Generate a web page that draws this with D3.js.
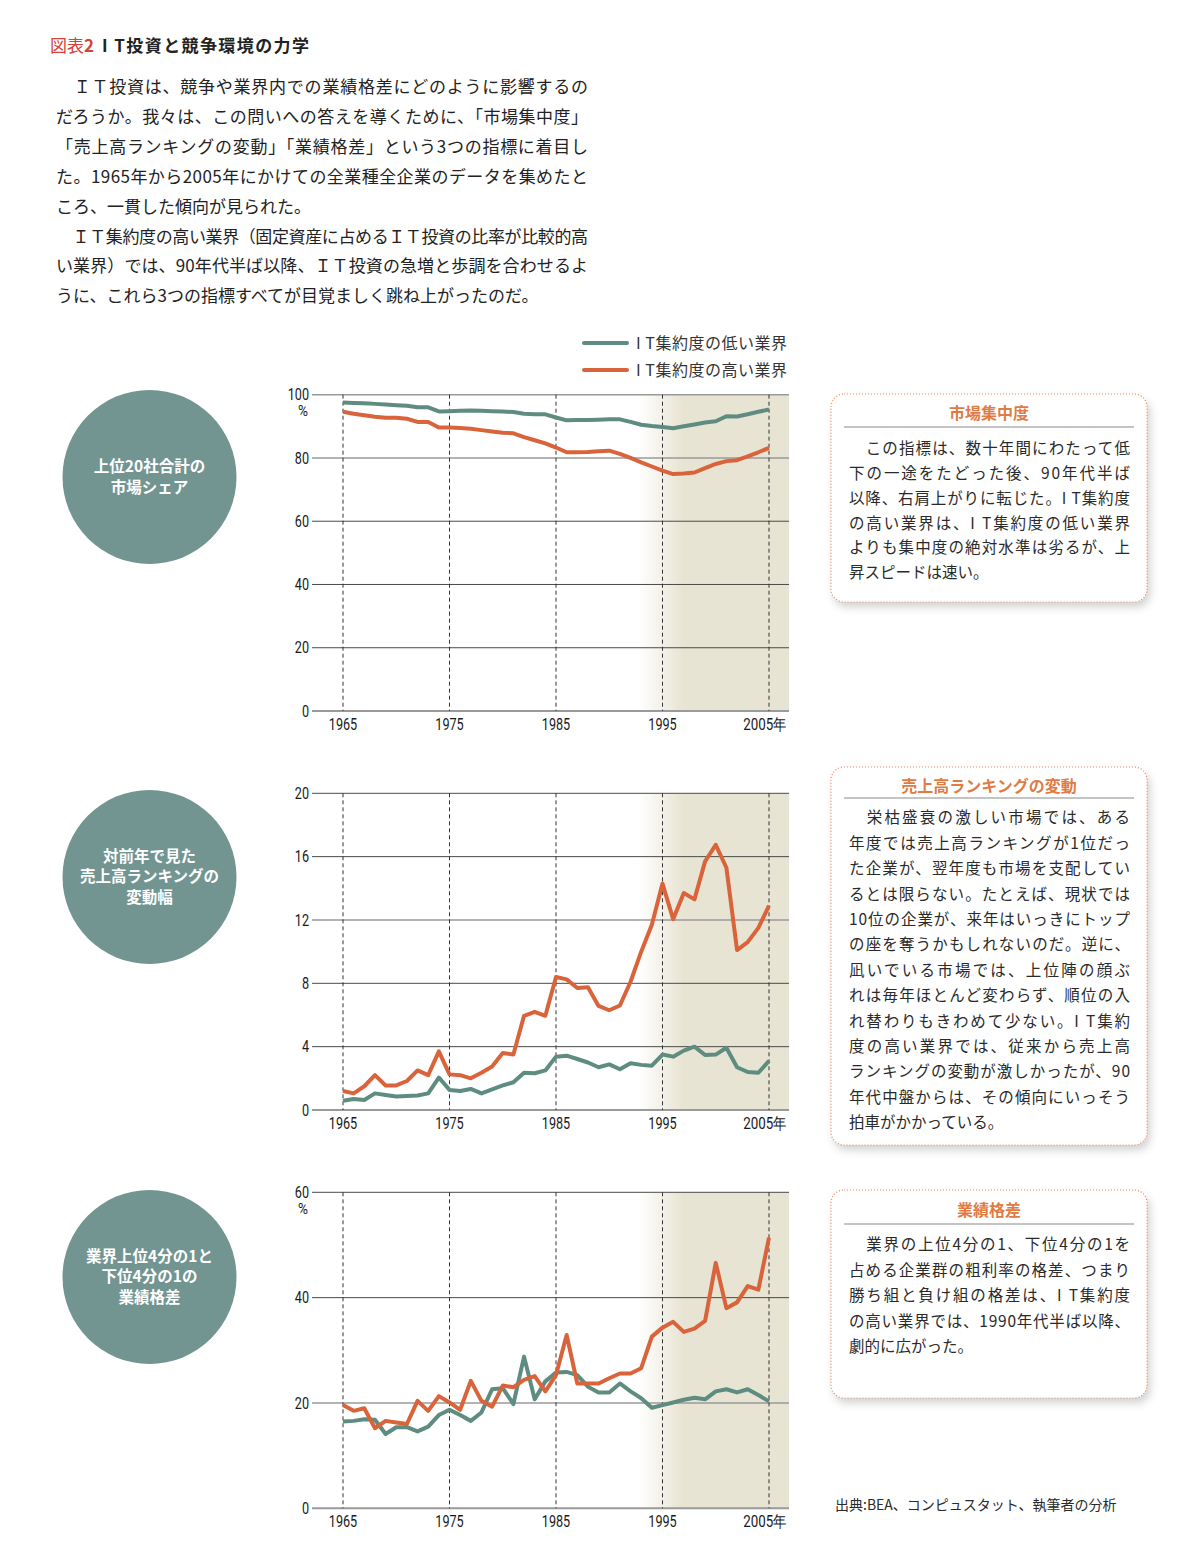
<!DOCTYPE html>
<html>
<head>
<meta charset="utf-8">
<script src="https://cdn.jsdelivr.net/npm/d3@7"></script>
<style>
  body { margin: 0; background: #fff; }
  svg { display: block; }
</style>
</head>
<body>
<svg id="chart" width="1202" height="1558"></svg>
<script>
// ---- data ----
const years = d3.range(1965, 2006);

// 上位20社合計の市場シェア (%)
const shareLow = [97.5, 97.4, 97.3, 97.1, 96.9, 96.7, 96.5, 96.0, 96.0, 94.7, 94.8, 94.9, 95.0, 94.9, 94.8,
	94.7, 94.5, 94.0, 93.8, 93.8, 92.8, 91.9, 92.0, 92.0, 92.1, 92.2, 92.2, 91.4, 90.5, 90.1, 89.8,
	89.4, 90.0, 90.6, 91.2, 91.6, 93.2, 93.1, 93.8, 94.6, 95.3];
const shareHigh = [94.6, 94.0, 93.5, 93.0, 92.7, 92.7, 92.4, 91.4, 91.4, 89.6, 89.6, 89.5, 89.2, 88.8, 88.4,
	88.0, 87.8, 86.6, 85.6, 84.6, 83.3, 81.8, 81.8, 81.9, 82.1, 82.3, 81.3, 80.0, 78.6, 77.3, 76.0,
	74.9, 75.1, 75.4, 76.8, 78.1, 79.0, 79.3, 80.5, 81.8, 83.2];

// 対前年で見た売上高ランキングの変動幅
const rankLow = [0.59, 0.7, 0.63, 1.05, 0.95, 0.85, 0.88, 0.92, 1.05, 2.05, 1.27, 1.2, 1.33, 1.05, 1.3,
	1.55, 1.75, 2.35, 2.32, 2.5, 3.37, 3.43, 3.22, 3.0, 2.7, 2.88, 2.57, 2.95, 2.85, 2.8, 3.5,
	3.37, 3.75, 4.0, 3.47, 3.5, 3.93, 2.7, 2.4, 2.35, 3.1];
const rankHigh = [1.2, 1.05, 1.5, 2.2, 1.55, 1.55, 1.83, 2.5, 2.2, 3.7, 2.25, 2.2, 2.0, 2.35, 2.75,
	3.6, 3.5, 5.95, 6.2, 5.95, 8.4, 8.25, 7.7, 7.75, 6.57, 6.3, 6.6, 8.1, 10.0, 11.7, 14.3,
	12.05, 13.7, 13.3, 15.7, 16.75, 15.3, 10.1, 10.6, 11.5, 12.9];

// 業界上位4分の1と下位4分の1の業績格差 (%)
const gapLow = [16.5, 16.6, 16.9, 16.8, 14.1, 15.4, 15.4, 14.6, 15.5, 17.7, 18.7, 17.7, 16.6, 18.2, 22.6,
	22.8, 19.8, 28.8, 20.7, 24.1, 25.8, 25.9, 25.3, 23.1, 22.0, 22.0, 23.7, 22.2, 20.9, 19.1, 19.6,
	20.1, 20.6, 21.0, 20.7, 22.2, 22.6, 22.0, 22.6, 21.5, 20.3];
const gapHigh = [19.6, 18.5, 19.0, 15.2, 16.6, 16.3, 16.0, 20.4, 18.5, 21.3, 20.1, 18.7, 24.2, 20.4, 19.3,
	23.3, 23.0, 24.4, 25.1, 22.2, 25.3, 32.9, 23.7, 23.7, 23.7, 24.7, 25.6, 25.6, 26.6, 32.6, 34.3,
	35.4, 33.5, 34.1, 35.6, 46.6, 38.0, 39.1, 42.2, 41.5, 51.4];

const xTicks = [1965, 1975, 1985, 1995, 2005];
const shareTicks = [0, 20, 40, 60, 80, 100];
const rankTicks = [0, 4, 8, 12, 16, 20];
const gapTicks = [0, 20, 40, 60];

const seriesNames = ['I T集約度の低い業界', 'I T集約度の高い業界'];
const circleLabels = [
	['上位20社合計の', '市場シェア'],
	['対前年で見た', '売上高ランキングの', '変動幅'],
	['業界上位4分の1と', '下位4分の1の', '業績格差']
];
const boxTitles = ['市場集中度', '売上高ランキングの変動', '業績格差'];
const boxTexts = [
	['　この指標は、数十年間にわたって低', '下の一途をたどった後、90年代半ば', '以降、右肩上がりに転じた。I T集約度',
		'の高い業界は、I T集約度の低い業界', 'よりも集中度の絶対水準は劣るが、上', '昇スピードは速い。'],
	['　栄枯盛衰の激しい市場では、ある', '年度では売上高ランキングが1位だっ', 'た企業が、翌年度も市場を支配してい',
		'るとは限らない。たとえば、現状では', '10位の企業が、来年はいっきにトップ', 'の座を奪うかもしれないのだ。逆に、',
		'凪いでいる市場では、上位陣の顔ぶ', 'れは毎年ほとんど変わらず、順位の入', 'れ替わりもきわめて少ない。I T集約',
		'度の高い業界では、従来から売上高', 'ランキングの変動が激しかったが、90', '年代中盤からは、その傾向にいっそう',
		'拍車がかかっている。'],
	['　業界の上位4分の1、下位4分の1を', '占める企業群の粗利率の格差、つまり', '勝ち組と負け組の格差は、I T集約度',
		'の高い業界では、1990年代半ば以降、', '劇的に広がった。']
];
const introLines = [
	'　ＩＴ投資は、競争や業界内での業績格差にどのように影響するの',
	'だろうか。我々は、この問いへの答えを導くために、「市場集中度」',
	'「売上高ランキングの変動」「業績格差」という3つの指標に着目し',
	'た。1965年から2005年にかけての全業種全企業のデータを集めたと',
	'ころ、一貫した傾向が見られた。',
	'　ＩＴ集約度の高い業界（固定資産に占めるＩＴ投資の比率が比較的高',
	'い業界）では、90年代半ば以降、ＩＴ投資の急増と歩調を合わせるよ',
	'うに、これら3つの指標すべてが目覚ましく跳ね上がったのだ。'
];
const introJustified = [true, true, true, true, false, true, true, false];

// ---- styles ----
const GREEN = '#5e8c80';
const ORANGE = '#d9633a';
const TEAL = '#729592';
const BEIGE = '#e8e4d3';
const JP = '"Noto Sans CJK JP", "Noto Sans", sans-serif';
const NUM = '"Roboto", "Liberation Sans", sans-serif';

// condensed look for the axis numbers
function numLen(s) {
	s = String(s);
	const digits = s.replace('年', '').length;
	return digits * 7.1 + (s.includes('年') ? 15 : 0);
}

const svg = d3.select('#chart');
svg.append('rect').attr('width', 1202).attr('height', 1558).attr('fill', '#fff');

const defs = svg.append('defs');
const grad = defs.append('linearGradient').attr('id', 'shade').attr('x1', '0%').attr('x2', '100%');
grad.append('stop').attr('offset', '0%').attr('stop-color', BEIGE).attr('stop-opacity', 0);
grad.append('stop').attr('offset', '30%').attr('stop-color', BEIGE).attr('stop-opacity', 1);
grad.append('stop').attr('offset', '100%').attr('stop-color', BEIGE).attr('stop-opacity', 1);

const shadow = defs.append('filter').attr('id', 'shadow')
	.attr('x', '-10%').attr('y', '-10%').attr('width', '130%').attr('height', '130%');
shadow.append('feDropShadow').attr('dx', 3).attr('dy', 5).attr('stdDeviation', 4)
	.attr('flood-color', '#000').attr('flood-opacity', 0.18);

// ---- header ----
const title = svg.append('text').attr('x', 50).attr('y', 52)
	.attr('font-family', JP).attr('font-size', 17);
title.append('tspan').attr('fill', '#d8403a').text('図表');
title.append('tspan').attr('fill', '#d8403a').attr('font-weight', 700).text('2');
svg.append('text').attr('x', 102).attr('y', 52)
	.attr('font-family', JP).attr('font-size', 17).attr('font-weight', 700).attr('fill', '#222')
	.attr('textLength', 207).attr('lengthAdjust', 'spacing')
	.text('I T投資と競争環境の力学');

svg.append('g').selectAll('text')
	.data(introLines)
	.enter().append('text')
	.attr('x', 56)
	.attr('y', (d, i) => 93 + i * 29.9)
	.attr('font-family', JP)
	.attr('font-size', 17)
	.attr('fill', '#222')
	.each(function(d, i) {
		if (introJustified[i]) d3.select(this).attr('textLength', 532).attr('lengthAdjust', 'spacing');
	})
	.text(d => d);

// ---- legend ----
const legend = svg.append('g');
seriesNames.forEach((name, i) => {
	const y = 343 + i * 27;
	legend.append('line')
		.attr('x1', 584).attr('x2', 627).attr('y1', y).attr('y2', y)
		.attr('stroke', i === 0 ? GREEN : ORANGE).attr('stroke-width', 4).attr('stroke-linecap', 'round');
	legend.append('text')
		.attr('x', 636).attr('y', y).attr('dy', '0.35em')
		.attr('font-family', JP).attr('font-size', 16).attr('fill', '#333')
		.attr('textLength', 151).attr('lengthAdjust', 'spacing')
		.text(name);
});

// ---- panels ----
const x = d3.scaleLinear().domain([1965, 2005]).range([343, 769]);
const plotLeft = 312, plotRight = 789, shadeLeft = 638;

const panels = [
	{ low: shareLow, high: shareHigh, ticks: shareTicks, max: 100, top: 394.7, bottom: 711, pct: true, grey: [80, 100], cy: 477 },
	{ low: rankLow, high: rankHigh, ticks: rankTicks, max: 20, top: 793.3, bottom: 1110, pct: false, grey: [12], cy: 877 },
	{ low: gapLow, high: gapHigh, ticks: gapTicks, max: 60, top: 1192.3, bottom: 1508.3, pct: true, grey: [20], cy: 1277 }
];

panels.forEach((p, pi) => {
	const y = d3.scaleLinear().domain([0, p.max]).range([p.bottom, p.top]);
	const g = svg.append('g');

	g.append('rect')
		.attr('x', shadeLeft).attr('y', y(p.max))
		.attr('width', plotRight - shadeLeft).attr('height', y(0) - y(p.max))
		.attr('fill', 'url(#shade)');

	g.append('g').selectAll('line')
		.data(p.ticks)
		.enter().append('line')
		.attr('x1', plotLeft).attr('x2', plotRight)
		.attr('y1', d => y(d)).attr('y2', d => y(d))
		.attr('stroke', d => (d === 0 || p.grey.includes(d)) ? '#9a9a9a' : '#4a4a4a')
		.attr('stroke-width', d => d === 0 ? 2 : (p.grey.includes(d) ? 1.6 : 1));

	g.append('g').selectAll('line')
		.data(xTicks)
		.enter().append('line')
		.attr('x1', d => x(d)).attr('x2', d => x(d))
		.attr('y1', y(p.max)).attr('y2', y(0))
		.attr('stroke', '#333').attr('stroke-width', 1)
		.attr('stroke-dasharray', '4,3');

	g.append('g').selectAll('text')
		.data(p.ticks)
		.enter().append('text')
		.attr('x', 309).attr('y', d => y(d)).attr('dy', '0.35em')
		.attr('text-anchor', 'end')
		.attr('font-family', NUM).attr('font-size', 16).attr('fill', '#1a1a1a')
		.attr('textLength', d => numLen(d)).attr('lengthAdjust', 'spacingAndGlyphs')
		.text(d => d);

	if (p.pct) {
		g.append('text')
			.attr('x', 303).attr('y', y(p.max) + 16).attr('dy', '0.35em')
			.attr('text-anchor', 'middle')
			.attr('font-family', NUM).attr('font-size', 15).attr('fill', '#1a1a1a')
			.attr('textLength', 10).attr('lengthAdjust', 'spacingAndGlyphs')
			.text('%');
	}

	g.append('g').selectAll('text')
		.data(xTicks)
		.enter().append('text')
		.attr('x', d => d === 2005 ? x(d) - 4 : x(d))
		.attr('y', y(0) + 13).attr('dy', '0.35em')
		.attr('text-anchor', 'middle')
		.attr('font-family', NUM).attr('font-size', 16).attr('fill', '#1a1a1a')
		.attr('textLength', d => numLen(d === 2005 ? d + '年' : d)).attr('lengthAdjust', 'spacingAndGlyphs')
		.text(d => d === 2005 ? d + '年' : d);

	const line = d3.line()
		.x((d, i) => x(years[i]))
		.y(d => y(d));

	[[p.low, GREEN], [p.high, ORANGE]].forEach(([vals, col]) => {
		g.append('path')
			.datum(vals)
			.attr('d', line)
			.attr('fill', 'none')
			.attr('stroke', col)
			.attr('stroke-width', 4)
			.attr('stroke-linejoin', 'round');
	});

	// circle label
	g.append('circle').attr('cx', 149.5).attr('cy', p.cy).attr('r', 87).attr('fill', TEAL);
	const labels = circleLabels[pi];
	g.append('g').selectAll('text')
		.data(labels)
		.enter().append('text')
		.attr('x', 149.5)
		.attr('y', (d, i) => p.cy + (i - (labels.length - 1) / 2) * 20.5)
		.attr('dy', '0.35em')
		.attr('text-anchor', 'middle')
		.attr('font-family', JP).attr('font-size', 15.5).attr('font-weight', 700).attr('fill', '#fff')
		.text(d => d);
});

// ---- side notes ----
const boxes = [
	{ top: 394, bottom: 602, titleY: 413, ruleY: 427, firstY: 449, step: 24.7 },
	{ top: 767, bottom: 1145, titleY: 786, ruleY: 798, firstY: 818, step: 25.4 },
	{ top: 1190, bottom: 1398, titleY: 1210, ruleY: 1224, firstY: 1245, step: 25.5 }
];

boxes.forEach((b, bi) => {
	const g = svg.append('g');
	g.append('rect')
		.attr('x', 831).attr('y', b.top)
		.attr('width', 316).attr('height', b.bottom - b.top)
		.attr('rx', 13).attr('ry', 13)
		.attr('fill', '#fff')
		.attr('filter', 'url(#shadow)');
	g.append('rect')
		.attr('x', 831).attr('y', b.top)
		.attr('width', 316).attr('height', b.bottom - b.top)
		.attr('rx', 13).attr('ry', 13)
		.attr('fill', 'none')
		.attr('stroke', '#e28a5c').attr('stroke-width', 1.2)
		.attr('stroke-dasharray', '1,2');
	g.append('text')
		.attr('x', 989).attr('y', b.titleY).attr('dy', '0.35em')
		.attr('text-anchor', 'middle')
		.attr('font-family', JP).attr('font-size', 16).attr('font-weight', 700)
		.attr('fill', '#e07b45')
		.text(boxTitles[bi]);
	g.append('line')
		.attr('x1', 844).attr('x2', 1134).attr('y1', b.ruleY).attr('y2', b.ruleY)
		.attr('stroke', '#8a8a8a').attr('stroke-width', 1.2);
	const lines = boxTexts[bi];
	g.append('g').selectAll('text')
		.data(lines)
		.enter().append('text')
		.attr('x', 849)
		.attr('y', (d, i) => b.firstY + i * b.step)
		.attr('dy', '0.35em')
		.attr('font-family', JP).attr('font-size', 15.5).attr('fill', '#2a2a2a')
		.each(function(d, i) {
			if (i < lines.length - 1) d3.select(this).attr('textLength', 281).attr('lengthAdjust', 'spacing');
		})
		.text(d => d);
});

svg.append('text')
	.attr('x', 835).attr('y', 1505).attr('dy', '0.35em')
	.attr('font-family', JP).attr('font-size', 14).attr('fill', '#2a2a2a')
	.text('出典:BEA、コンピュスタット、執筆者の分析');
</script>
</body>
</html>
